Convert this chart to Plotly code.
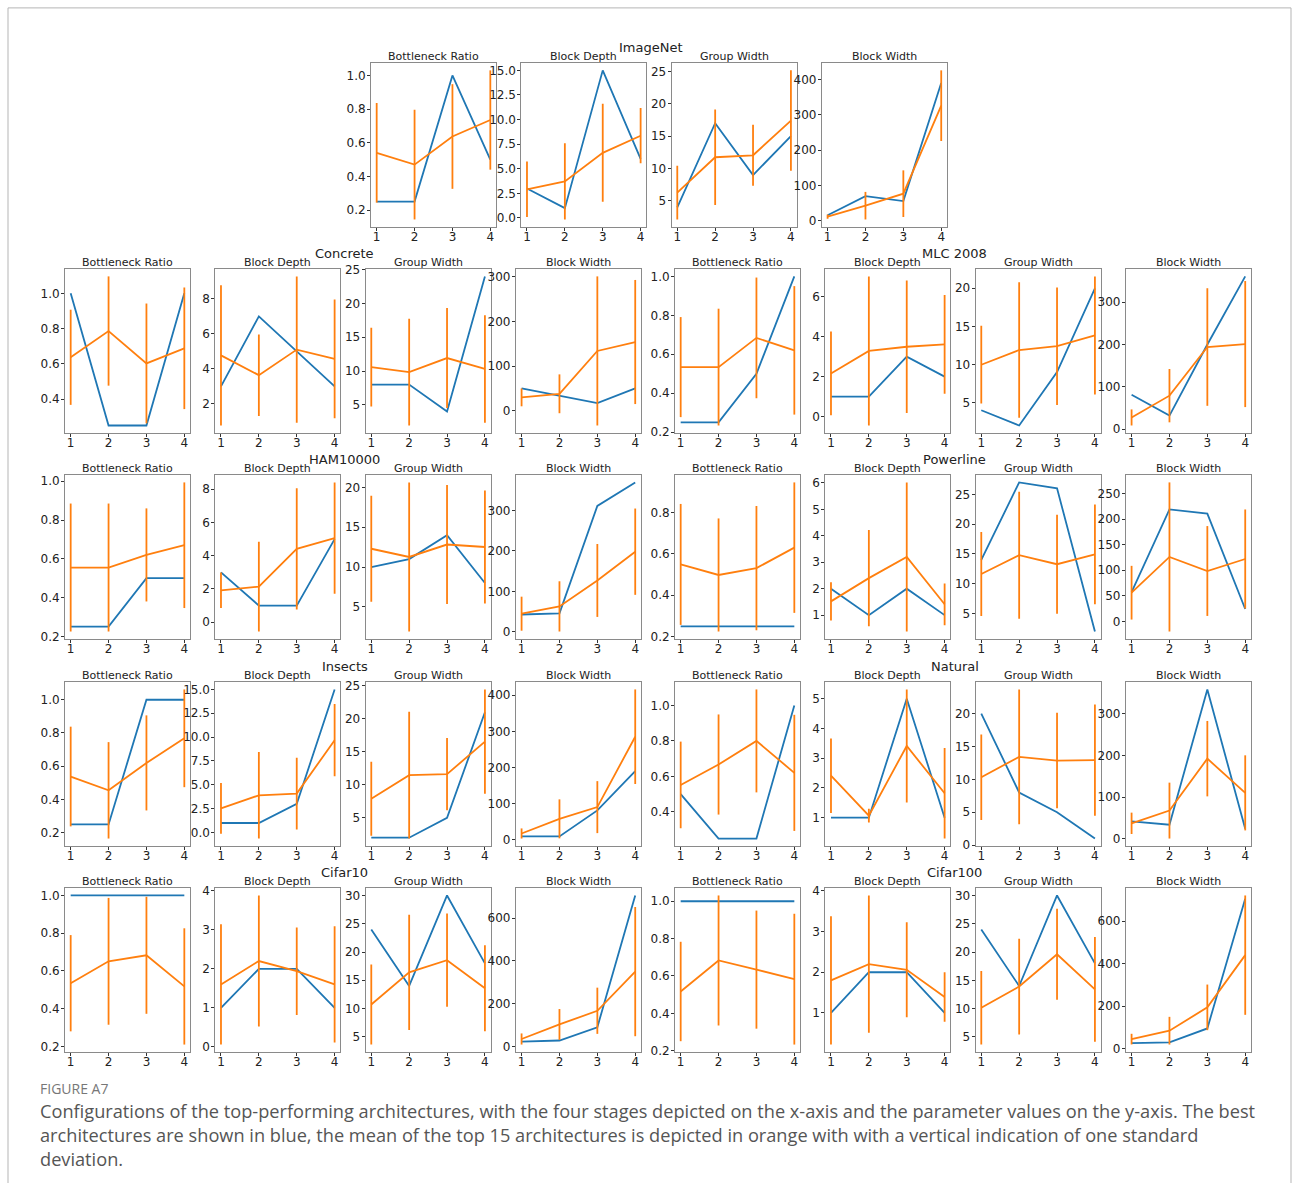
import plotly.graph_objects as go

# Stages on the x-axis and the four searched parameters
STAGES = [1, 2, 3, 4]
PARAMS = ["Bottleneck Ratio", "Block Depth", "Group Width", "Block Width"]

# Each dataset: best architecture (blue), mean of top 15 (orange) and its std,
# one list per parameter in the order of PARAMS.
imagenet_best = [[0.25, 0.25, 1.0, 0.5], [3, 1, 15, 6], [4, 17, 9, 15], [16, 70, 56, 390]]
imagenet_mean = [[0.54, 0.47, 0.637, 0.735], [2.92, 3.72, 6.62, 8.36], [6.3, 11.75, 12.05, 17.4], [12, 43, 77, 326]]
imagenet_std = [[0.296, 0.326, 0.311, 0.295], [2.83, 3.87, 4.98, 2.81], [4.15, 7.35, 4.7, 7.75], [6, 39, 66, 100]]

concrete_best = [[1.0, 0.25, 0.25, 1.0], [3, 7, 5, 3], [8, 8, 4, 24], [50, 33, 17, 50]]
concrete_mean = [[0.637, 0.786, 0.602, 0.688], [4.77, 3.64, 5.1, 4.57], [10.57, 9.84, 11.92, 10.31], [30, 38, 134, 154]]
concrete_std = [[0.27, 0.31, 0.34, 0.345], [4.01, 2.33, 4.19, 3.4], [5.82, 7.9, 7.4, 7.95], [20, 43.5, 167, 139]]

mlc_best = [[0.25, 0.25, 0.5, 1.0], [1, 1, 3, 2], [4, 2, 9, 20], [81, 32, 200, 361]]
mlc_mean = [[0.534, 0.534, 0.684, 0.62], [2.16, 3.29, 3.5, 3.62], [9.97, 11.9, 12.4, 13.82], [27.5, 79, 194, 201]]
mlc_std = [[0.257, 0.30, 0.31, 0.33], [2.1, 3.74, 3.32, 2.48], [5.1, 8.9, 7.7, 7.74], [19, 63, 139, 149]]

ham_best = [[0.25, 0.25, 0.5, 0.5], [3, 1, 1, 5], [10, 11, 14, 8], [43, 46, 311, 369]]
ham_mean = [[0.555, 0.555, 0.62, 0.67], [1.92, 2.14, 4.41, 5.06], [12.3, 11.27, 12.83, 12.52], [45, 63, 127, 198]]
ham_std = [[0.33, 0.33, 0.24, 0.324], [1.07, 2.7, 3.65, 3.35], [6.66, 9.35, 7.47, 7.1], [42, 62, 90, 106.5]]

powerline_best = [[0.25, 0.25, 0.25, 0.25], [2, 1, 2, 1], [14, 27, 26, 2], [57, 219, 211, 24]]
powerline_mean = [[0.549, 0.498, 0.531, 0.63], [1.52, 2.4, 3.2, 1.41], [11.64, 14.8, 13.28, 14.93], [56, 126, 98.5, 122]]
powerline_std = [[0.292, 0.273, 0.3, 0.315], [0.72, 1.82, 2.82, 0.79], [7.06, 10.64, 8.3, 8.35], [52.6, 146, 88, 97]]

insects_best = [[0.25, 0.25, 1.0, 1.0], [1, 1, 3, 15], [2, 2, 5, 21], [9, 9, 81, 190]]
insects_mean = [[0.538, 0.455, 0.62, 0.768], [2.53, 3.9, 4.08, 9.68], [7.9, 11.47, 11.62, 16.55], [17, 57.5, 90, 285]]
insects_std = [[0.3, 0.29, 0.286, 0.294], [2.65, 4.53, 3.77, 3.78], [5.6, 9.6, 5.48, 7.9], [14, 54, 72, 131]]

natural_best = [[0.5, 0.25, 0.25, 1.0], [1, 1, 5, 1], [20, 8, 5, 1], [41.6, 33.6, 358, 24]]
natural_mean = [[0.552, 0.667, 0.8, 0.62], [2.41, 1.07, 3.41, 1.82], [10.33, 13.42, 12.86, 12.92], [37, 67.5, 192, 110]]
natural_std = [[0.244, 0.282, 0.29, 0.327], [1.25, 0.23, 1.9, 1.52], [6.5, 10.25, 7.25, 8.45], [25.6, 67, 90.4, 90]]

cifar10_best = [[1.0, 1.0, 1.0, 1.0], [1, 2, 2, 1], [24, 14, 30, 18], [23, 28, 90, 706]]
cifar10_mean = [[0.535, 0.651, 0.683, 0.518], [1.6, 2.2, 1.94, 1.6], [10.72, 16.4, 18.56, 13.6], [35, 103, 167, 350]]
cifar10_std = [[0.255, 0.336, 0.31, 0.308], [1.54, 1.68, 1.12, 1.49], [7.08, 10.2, 8.25, 7.6], [26, 72, 108, 302]]

cifar100_best = [[1.0, 1.0, 1.0, 1.0], [1, 2, 2, 1], [24, 14, 30, 18], [27, 31, 96, 705]]
cifar100_mean = [[0.517, 0.683, 0.634, 0.583], [1.8, 2.2, 2.06, 1.39], [10.15, 13.9, 19.6, 13.4], [46, 85.5, 195, 440]]
cifar100_std = [[0.266, 0.348, 0.316, 0.35], [1.58, 1.69, 1.17, 0.61], [6.5, 8.45, 8.05, 9.25], [25, 65, 107, 280]]

# y tick step per parameter panel of each dataset
imagenet_dtick = [0.2, 2.5, 5, 100]
concrete_dtick = [0.2, 2, 5, 100]
mlc_dtick = [0.2, 2, 5, 100]
ham_dtick = [0.2, 2, 5, 100]
powerline_dtick = [0.2, 1, 5, 50]
insects_dtick = [0.2, 2.5, 5, 100]
natural_dtick = [0.2, 1, 5, 100]
cifar10_dtick = [0.2, 1, 5, 200]
cifar100_dtick = [0.2, 1, 5, 200]

DATASETS = [
    ("ImageNet", imagenet_best, imagenet_mean, imagenet_std, imagenet_dtick),
    ("Concrete", concrete_best, concrete_mean, concrete_std, concrete_dtick),
    ("MLC 2008", mlc_best, mlc_mean, mlc_std, mlc_dtick),
    ("HAM10000", ham_best, ham_mean, ham_std, ham_dtick),
    ("Powerline", powerline_best, powerline_mean, powerline_std, powerline_dtick),
    ("Insects", insects_best, insects_mean, insects_std, insects_dtick),
    ("Natural", natural_best, natural_mean, natural_std, natural_dtick),
    ("Cifar10", cifar10_best, cifar10_mean, cifar10_std, cifar10_dtick),
    ("Cifar100", cifar100_best, cifar100_mean, cifar100_std, cifar100_dtick),
]

CAPTION_LABEL = "FIGURE A7"
CAPTION_LINES = [
    "Configurations of the top-performing architectures, with the four stages depicted on the x-axis and the parameter values on the y-axis. The best",
    "architectures are shown in blue, the mean of the top 15 architectures is depicted in orange with with a vertical indication of one standard",
    "deviation.",
]

# ---- page geometry (pixels) ----
W, H = 1293, 1189
# vertical placement on the captured page: y_page = Y_OFF + Y_SCALE * y_figure
Y_OFF, Y_SCALE = 6.1, 0.9898
PANEL_W, PANEL_H, PITCH = 125, 164, 150.3
ROW_TOPS = [63, 269, 475, 682, 888]
# (dataset index, left edge of its group of four panels, row)
GROUPS = [(0, 371, 0), (1, 65, 1), (2, 675, 1), (3, 65, 2), (4, 675, 2),
          (5, 65, 3), (6, 675, 3), (7, 65, 4), (8, 675, 4)]

BLUE = "#1f77b4"
ORANGE = "#ff7f0e"
FONT = "DejaVu Sans"


def px_x(x):
    return x / W


def px_y(y):
    return 1 - ((y - Y_OFF) / Y_SCALE) / H


fig = go.Figure()
annotations = []
layout_axes = {}
k = 0
for ds_idx, group_left, row in GROUPS:
    name, best, mean, std, dticks = DATASETS[ds_idx]
    top = ROW_TOPS[row]
    for p in range(4):
        k += 1
        left = group_left + p * PITCH
        xa = "x" if k == 1 else f"x{k}"
        ya = "y" if k == 1 else f"y{k}"
        fig.add_trace(go.Scatter(
            x=STAGES, y=best[p], mode="lines", xaxis=xa, yaxis=ya,
            line=dict(color=BLUE, width=1.8), showlegend=False, hoverinfo="skip"))
        fig.add_trace(go.Scatter(
            x=STAGES, y=mean[p], mode="lines", xaxis=xa, yaxis=ya,
            line=dict(color=ORANGE, width=1.8), showlegend=False, hoverinfo="skip",
            error_y=dict(type="data", array=std[p], visible=True, width=0,
                         thickness=1.8, color=ORANGE)))

        # autoscale like the plotting default: data incl. error bars + 5% margin
        lo = min(min(best[p]), min(m - s for m, s in zip(mean[p], std[p])))
        hi = max(max(best[p]), max(m + s for m, s in zip(mean[p], std[p])))
        pad = 0.05 * (hi - lo)
        dt = dticks[p]
        fmt = ".1f" if dt in (0.2, 2.5) else ""

        axis_common = dict(showline=True, mirror=True, linecolor="#8a8a8a", linewidth=1,
                           ticks="outside", ticklen=3, tickwidth=1, tickcolor="#333",
                           showgrid=False, zeroline=False,
                           tickfont=dict(family=FONT, size=12, color="#222"))
        layout_axes["xaxis" if k == 1 else f"xaxis{k}"] = dict(
            domain=[px_x(left), px_x(left + PANEL_W)], anchor=ya,
            range=[0.85, 4.15], tickvals=STAGES, ticklabelstandoff=-4, **axis_common)
        layout_axes["yaxis" if k == 1 else f"yaxis{k}"] = dict(
            domain=[px_y(top + PANEL_H), px_y(top)], anchor=xa,
            range=[lo - pad, hi + pad], tick0=0, dtick=dt, tickformat=fmt,
            ticklabelstandoff=-1, **axis_common)

        annotations.append(dict(
            text=PARAMS[p], x=px_x(left + PANEL_W / 2), y=px_y(top - 6),
            xref="paper", yref="paper", xanchor="center", yanchor="middle",
            showarrow=False, font=dict(family=FONT, size=11, color="#222")))

    group_center = group_left + (3 * PITCH + PANEL_W) / 2 - 8
    annotations.append(dict(
        text=name, x=px_x(group_center), y=px_y(top - 15),
        xref="paper", yref="paper", xanchor="center", yanchor="middle",
        showarrow=False, font=dict(family=FONT, size=13, color="#222")))

# caption
annotations.append(dict(
    text=CAPTION_LABEL, x=px_x(38), y=px_y(1088), xref="paper", yref="paper",
    xanchor="left", yanchor="middle", showarrow=False,
    font=dict(family="Open Sans", size=14, color="#777")))
for i, line in enumerate(CAPTION_LINES):
    annotations.append(dict(
        text=line, x=px_x(38), y=px_y(1111 + 24 * i), xref="paper", yref="paper",
        xanchor="left", yanchor="middle", showarrow=False,
        font=dict(family="Open Sans", size=18.2, color="#555")))

# light frame round the whole figure (left, top and right sides)
frame = (f"M {px_x(8)} 0 L {px_x(8)} {px_y(8)} "
         f"L {px_x(1291)} {px_y(8)} L {px_x(1291)} 0")

fig.update_layout(
    width=W, height=H, margin=dict(l=0, r=0, t=0, b=0),
    paper_bgcolor="white", plot_bgcolor="white",
    annotations=annotations,
    shapes=[dict(type="path", xref="paper", yref="paper", path=frame,
                 line=dict(color="#b5b5b5", width=1))],
    **layout_axes)

fig.write_html("out.html")
